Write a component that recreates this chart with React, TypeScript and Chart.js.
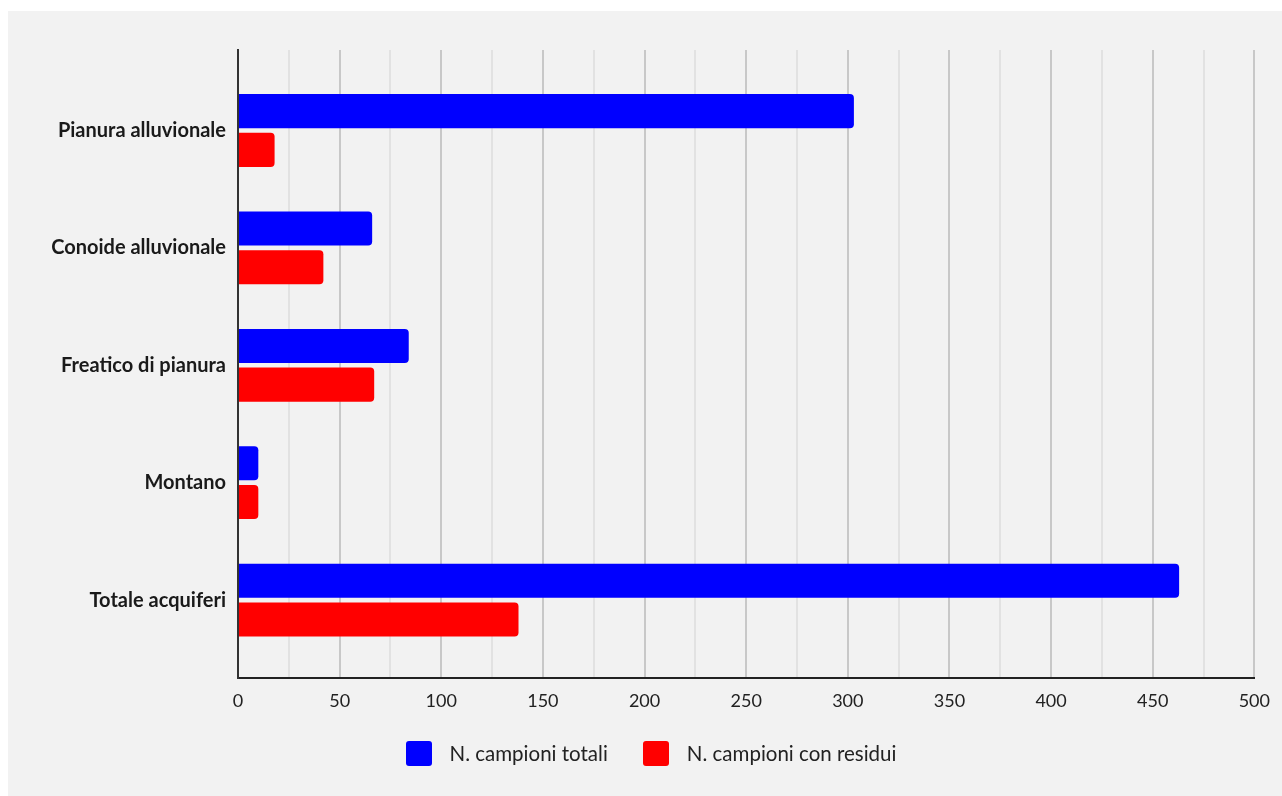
import React, { useEffect, useRef } from 'react';
import { Chart, registerables } from 'chart.js';

Chart.register(...registerables);

const categories = [
  'Pianura alluvionale',
  'Conoide alluvionale',
  'Freatico di pianura',
  'Montano',
  'Totale acquiferi',
];
const totalSamples = [303, 66, 84, 10, 463];
const samplesWithResidues = [18, 42, 67, 10, 138];
const seriesNames = ['N. campioni totali', 'N. campioni con residui'];
const seriesColors = ['#0000ff', '#ff0000'];
const xMin = 0;
const xMax = 500;
const xGridStep = 25;
const xLabelStep = 50;

const FONT = 'Lato, "Noto Sans", sans-serif';

export default function App() {
  const canvasRef = useRef<HTMLCanvasElement | null>(null);

  useEffect(() => {
    const canvas = canvasRef.current;
    if (!canvas) return;
    const toPoints = (vals: number[]) => vals.map((v, i) => ({ x: v, y: i }));
    const chart = new Chart(canvas, {
      type: 'bar',
      data: {
        datasets: [
          {
            label: seriesNames[0],
            data: toPoints(totalSamples),
            backgroundColor: seriesColors[0],
            borderRadius: 4,
            borderSkipped: 'start',
            categoryPercentage: 0.66,
            barPercentage: 0.88,
          },
          {
            label: seriesNames[1],
            data: toPoints(samplesWithResidues),
            backgroundColor: seriesColors[1],
            borderRadius: 4,
            borderSkipped: 'start',
            categoryPercentage: 0.66,
            barPercentage: 0.88,
          },
        ] as any,
      },
      options: {
        indexAxis: 'y',
        animation: false,
        responsive: false,
        maintainAspectRatio: false,
        events: [],
        layout: { padding: { top: 39, right: 27, left: 0, bottom: 78 } },
        plugins: {
          legend: { display: false },
          tooltip: { enabled: false },
        },
        scales: {
          x: {
            type: 'linear',
            position: 'bottom',
            min: xMin,
            max: xMax,
            afterFit: (s: any) => {
              s.height = 40;
            },
            ticks: {
              stepSize: xGridStep,
              autoSkip: false,
              maxRotation: 0,
              padding: 12,
              color: '#222222',
              font: { family: FONT, size: 18 },
              callback: (v: any) => (Number(v) % xLabelStep === 0 ? String(v) : ''),
            },
            grid: {
              drawTicks: false,
              lineWidth: 2,
              color: (ctx: any) => {
                const v = ctx.tick ? ctx.tick.value : 1;
                if (v === 0) return '#333333';
                return v % xLabelStep === 0 ? '#c8c8c8' : '#e2e2e2';
              },
            },
            border: { display: true, color: '#222222', width: 2 },
          },
          y: {
            type: 'linear',
            reverse: true,
            offset: false,
            min: -0.686,
            max: 4.664,
            afterFit: (s: any) => {
              s.width = 230;
            },
            afterBuildTicks: (axis: any) => {
              axis.ticks = categories.map((_, i) => ({ value: i }));
            },
            ticks: {
              autoSkip: false,
              padding: 12,
              color: '#1a1a1a',
              font: { family: FONT, size: 20, weight: 'bold' },
              callback: (v: any) => categories[Number(v)] ?? '',
            },
            grid: { display: false, drawTicks: false },
            border: { display: true, color: '#333333', width: 2 },
          },
        },
      } as any,
    });
    return () => chart.destroy();
  }, []);

  return (
    <div
      style={{
        position: 'fixed',
        left: 8,
        top: 11,
        width: 1274,
        height: 785,
        background: '#f2f2f2',
        overflow: 'hidden',
      }}
    >
      <canvas
        ref={canvasRef}
        width={1274}
        height={785}
        style={{ position: 'absolute', left: 0, top: 0, width: 1274, height: 785 }}
      />
      <div
        style={{
          position: 'absolute',
          top: 730,
          left: 12,
          right: 0,
          height: 25,
          display: 'flex',
          justifyContent: 'center',
          alignItems: 'center',
          gap: 35,
          fontFamily: FONT,
          fontSize: 20.5,
          color: '#222222',
        }}
      >
        {seriesNames.map((name, i) => (
          <div key={name} style={{ display: 'flex', alignItems: 'center' }}>
            <div
              style={{
                width: 26,
                height: 25,
                borderRadius: 3,
                background: seriesColors[i],
                marginRight: 18,
              }}
            />
            <span style={{ lineHeight: '25px' }}>{name}</span>
          </div>
        ))}
      </div>
    </div>
  );
}
